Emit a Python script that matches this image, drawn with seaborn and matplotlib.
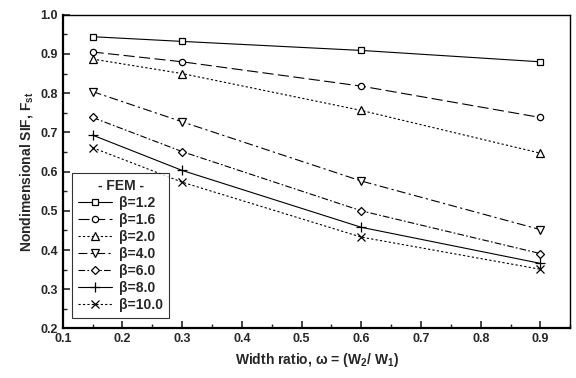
import matplotlib
matplotlib.use("Agg")
import matplotlib.pyplot as plt
import seaborn as sns
import pandas as pd
from matplotlib.ticker import MultipleLocator

sns.set_theme(style="ticks")
plt.rcParams['font.family'] = ['Liberation Sans', 'DejaVu Sans']
plt.rcParams['font.weight'] = 'bold'
plt.rcParams['mathtext.default'] = 'regular'

omega = [0.15, 0.3, 0.6, 0.9]
labels = ["β=1.2", "β=1.6", "β=2.0", "β=4.0", "β=6.0", "β=8.0", "β=10.0"]
f_b12 = [0.944, 0.932, 0.909, 0.880]
f_b16 = [0.905, 0.880, 0.818, 0.738]
f_b20 = [0.887, 0.850, 0.756, 0.647]
f_b40 = [0.804, 0.727, 0.576, 0.452]
f_b60 = [0.738, 0.651, 0.500, 0.391]
f_b80 = [0.693, 0.603, 0.458, 0.366]
f_b100 = [0.661, 0.573, 0.433, 0.351]
series = [f_b12, f_b16, f_b20, f_b40, f_b60, f_b80, f_b100]

markers = ['s', 'o', '^', 'v', 'D', '+', 'x']
msizes = [4.5, 4.5, 5.5, 5.5, 4.5, 6.5, 5.5]
styles = ['-', (0, (10, 4)), (0, (2, 2)), (0, (8, 3, 2, 3)), (0, (6, 2, 1.5, 2)), '-', (0, (2, 2))]

fig = plt.figure(figsize=(5.76, 3.78), dpi=100)
ax = fig.add_axes([0.109, 0.131, 0.881, 0.830])

for lab, vals, m, ms, ls in zip(labels, series, markers, msizes, styles):
    df = pd.DataFrame({"omega": omega, "F": vals})
    sns.lineplot(data=df, x="omega", y="F", ax=ax, color="black", linewidth=0.8,
                 linestyle=ls, marker=m, markersize=ms, markerfacecolor="white",
                 markeredgecolor="black", markeredgewidth=0.9, label=lab)

ax.set_xlim(0.1, 0.95)
ax.set_ylim(0.2, 1.0)
ax.xaxis.set_major_locator(MultipleLocator(0.1))
ax.xaxis.set_minor_locator(MultipleLocator(0.05))
ax.yaxis.set_major_locator(MultipleLocator(0.1))
ax.yaxis.set_minor_locator(MultipleLocator(0.05))
ax.set_xticks([0.1, 0.2, 0.3, 0.4, 0.5, 0.6, 0.7, 0.8, 0.9])
ax.set_xticklabels(["0.1", "0.2", "0.3", "0.4", "0.5", "0.6", "0.7", "0.8", "0.9"])
ax.tick_params(which='major', direction='in', length=5, width=1.2, labelsize=9, top=False, right=False)
ax.tick_params(which='minor', direction='in', length=3, width=1.0, top=False, right=False)
for lbl in ax.get_xticklabels() + ax.get_yticklabels():
    lbl.set_fontweight('bold')
for s in ax.spines.values():
    s.set_linewidth(1.0)
    s.set_color('black')
ax.spines['left'].set_linewidth(1.6)
ax.spines['bottom'].set_linewidth(1.6)

ax.set_xlabel("Width ratio, ω = (W$_2$/ W$_1$)", fontsize=10, fontweight='bold')
ax.set_ylabel("Nondimensional SIF, F$_{st}$", fontsize=10, fontweight='bold')

leg = ax.legend(title="- FEM -", loc="lower left", bbox_to_anchor=(0.013, 0.025),
                frameon=True, fancybox=False, edgecolor="black", fontsize=10,
                title_fontsize=10, handlelength=2.5, labelspacing=0.22,
                borderpad=0.4, handletextpad=0.5, borderaxespad=0.2)
leg.get_title().set_fontweight('bold')
leg.get_frame().set_linewidth(0.8)
for t in leg.get_texts():
    t.set_fontweight('bold')

fig.savefig("out.png", dpi=100)
